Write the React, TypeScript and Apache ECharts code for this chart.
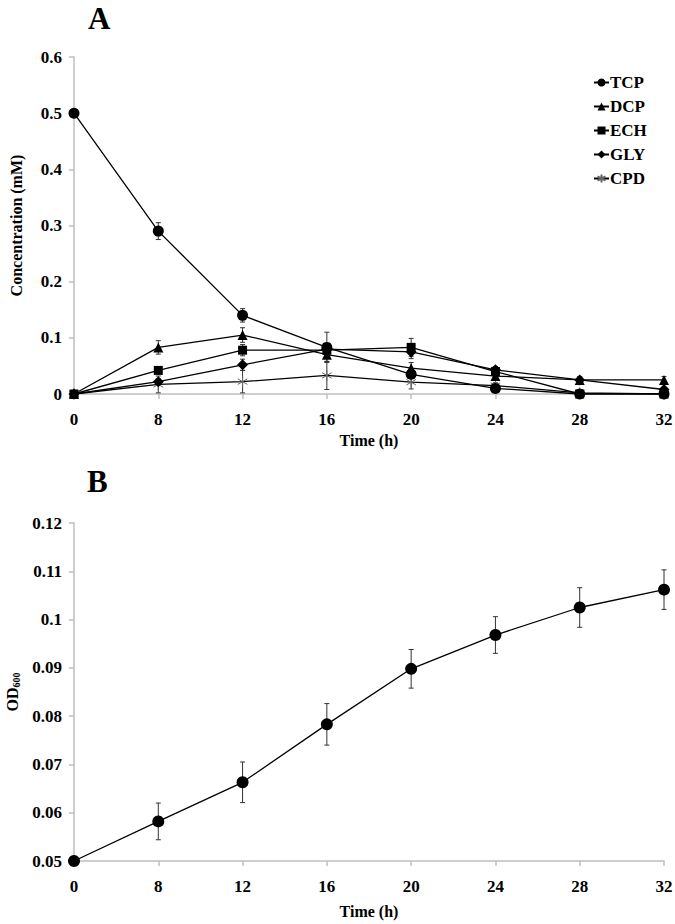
import React, { useEffect, useRef } from "react";
import * as echarts from "echarts";

const timeLabels = ["0", "8", "12", "16", "20", "24", "28", "32"];

const tcp = [0.5, 0.29, 0.14, 0.083, 0.035, 0.01, 0.0, 0.0];
const tcpErr = [0, 0.015, 0.012, 0.027, 0.005, 0.004, 0.003, 0.002];
const dcp = [0, 0.083, 0.105, 0.07, 0.046, 0.032, 0.025, 0.025];
const dcpErr = [0, 0.012, 0.013, 0.012, 0.01, 0.008, 0.006, 0.006];
const ech = [0, 0.042, 0.078, 0.078, 0.083, 0.04, 0.0, 0.0];
const echErr = [0, 0.005, 0.01, 0.01, 0.016, 0.008, 0.003, 0.002];
const gly = [0, 0.022, 0.052, 0.08, 0.075, 0.043, 0.025, 0.008];
const glyErr = [0, 0.005, 0.01, 0.01, 0.012, 0.006, 0.005, 0.003];
const cpd = [0, 0.017, 0.022, 0.033, 0.021, 0.015, 0.002, 0.0];
const cpdErr = [0, 0.015, 0.02, 0.025, 0.012, 0.005, 0.003, 0.002];

const od600 = [0.05, 0.0582, 0.0663, 0.0783, 0.0898, 0.0968, 0.1025, 0.1062];
const od600Err = [0, 0.0038, 0.0042, 0.0043, 0.004, 0.0038, 0.0041, 0.0041];

const FONT = "Liberation Serif";
const AXIS_GRAY = "#bfbfbf";
const ASTERISK = "path://M0,-5L0,5M-4.33,-2.5L4.33,2.5M-4.33,2.5L4.33,-2.5";

function errSeries(name: string, vals: number[], errs: number[], gi: number) {
  return {
    type: "custom",
    name: name + "-err",
    xAxisIndex: gi,
    yAxisIndex: gi,
    z: 1,
    silent: true,
    data: vals.map((v, i) => [i, v, errs[i]]),
    renderItem: (params: any, api: any) => {
      const i = api.value(0);
      const v = api.value(1);
      const e = api.value(2);
      if (!e) return null;
      const top = api.coord([i, v + e]);
      const bot = api.coord([i, v - e]);
      const cw = 2.5;
      const st = { stroke: "#333", lineWidth: 1 };
      return {
        type: "group",
        children: [
          { type: "line", shape: { x1: top[0], y1: top[1], x2: bot[0], y2: bot[1] }, style: st },
          { type: "line", shape: { x1: top[0] - cw, y1: top[1], x2: top[0] + cw, y2: top[1] }, style: st },
          { type: "line", shape: { x1: bot[0] - cw, y1: bot[1], x2: bot[0] + cw, y2: bot[1] }, style: st },
        ],
      };
    },
  };
}

function lineSeries(name: string, vals: number[], symbol: string, size: number, gi: number, extra: any = {}) {
  return {
    type: "line",
    name,
    xAxisIndex: gi,
    yAxisIndex: gi,
    data: vals,
    symbol,
    symbolSize: size,
    showAllSymbol: true,
    z: 3,
    lineStyle: { color: "#000", width: 1.3 },
    itemStyle: { color: "#000" },
    ...extra,
  };
}

export default function App() {
  const ref = useRef<HTMLDivElement>(null);
  useEffect(() => {
    if (!ref.current) return;
    const chart = echarts.init(ref.current, null, { renderer: "svg" });
    const axisLabel = { fontFamily: FONT, fontWeight: "bold", fontSize: 17, color: "#000" };
    const nameStyle = { fontFamily: FONT, fontWeight: "bold", fontSize: 16, color: "#000" };
    const xAxisBase = (gi: number) => ({
      type: "category",
      gridIndex: gi,
      data: timeLabels,
      boundaryGap: false,
      name: "Time (h)",
      nameLocation: "middle",
      nameGap: gi === 0 ? 38 : 42,
      nameTextStyle: nameStyle,
      axisLine: { lineStyle: { color: AXIS_GRAY, width: 1.5 } },
      axisTick: { show: true, length: 5, alignWithLabel: true, lineStyle: { color: AXIS_GRAY, width: 1.5 } },
      axisLabel: { ...axisLabel, margin: 17 },
      splitLine: { show: false },
    });
    chart.setOption({
      animation: false,
      backgroundColor: "#fff",
      graphic: [
        { type: "text", left: 88, top: 3, style: { text: "A", font: `bold 31px "${FONT}"`, fill: "#000" } },
        { type: "text", left: 87, top: 466, style: { text: "B", font: `bold 31px "${FONT}"`, fill: "#000" } },
      ],
      legend: {
        data: ["TCP", "DCP", "ECH", "GLY", "CPD"],
        orient: "vertical",
        left: 588,
        top: 69,
        itemWidth: 15,
        itemHeight: 10,
        itemGap: 7,
        textStyle: { fontFamily: FONT, fontWeight: "bold", fontSize: 17, color: "#000", padding: [0, 0, 0, -4] },
      },
      grid: [
        { left: 74, right: 11, top: 57, height: 337, containLabel: false, outerBoundsMode: "none" },
        { left: 74, right: 11, top: 523, height: 338, containLabel: false, outerBoundsMode: "none" },
      ],
      xAxis: [xAxisBase(0), xAxisBase(1)],
      yAxis: [
        {
          type: "value",
          gridIndex: 0,
          min: 0,
          max: 0.6,
          interval: 0.1,
          name: "Concentration (mM)",
          nameLocation: "middle",
          nameGap: 50,
          nameTextStyle: nameStyle,
          axisLine: { show: true, lineStyle: { color: AXIS_GRAY, width: 1.5 } },
          axisTick: { show: true, length: 5, lineStyle: { color: AXIS_GRAY, width: 1.5 } },
          axisLabel: { ...axisLabel, margin: 12 },
          splitLine: { show: false },
        },
        {
          type: "value",
          gridIndex: 1,
          min: 0.05,
          max: 0.12,
          interval: 0.01,
          name: "{a|OD}{b|600}",
          nameLocation: "middle",
          nameGap: 52,
          nameTextStyle: {
            ...nameStyle,
            rich: {
              a: { fontFamily: FONT, fontWeight: "bold", fontSize: 16, color: "#000" },
              b: { fontFamily: FONT, fontWeight: "bold", fontSize: 10, color: "#000", padding: [7, 0, 0, 0] },
            },
          },
          axisLine: { show: true, lineStyle: { color: AXIS_GRAY, width: 1.5 } },
          axisTick: { show: true, length: 5, lineStyle: { color: AXIS_GRAY, width: 1.5 } },
          axisLabel: { ...axisLabel, margin: 12 },
          splitLine: { show: false },
        },
      ],
      series: [
        errSeries("TCP", tcp, tcpErr, 0),
        errSeries("DCP", dcp, dcpErr, 0),
        errSeries("ECH", ech, echErr, 0),
        errSeries("GLY", gly, glyErr, 0),
        errSeries("CPD", cpd, cpdErr, 0),
        lineSeries("CPD", cpd, ASTERISK, 11, 0, {
          itemStyle: { color: "transparent", borderColor: "#666", borderWidth: 1 },
          symbolKeepAspect: true,
        }),
        lineSeries("GLY", gly, "diamond", 11, 0),
        lineSeries("ECH", ech, "rect", 9, 0),
        lineSeries("DCP", dcp, "triangle", 10, 0),
        lineSeries("TCP", tcp, "circle", 11, 0),
        errSeries("OD600", od600, od600Err, 1),
        lineSeries("OD600", od600, "circle", 12, 1),
      ],
    });
    return () => chart.dispose();
  }, []);
  return <div ref={ref} style={{ position: "fixed", left: 0, top: 0, width: 675, height: 924 }} />;
}
